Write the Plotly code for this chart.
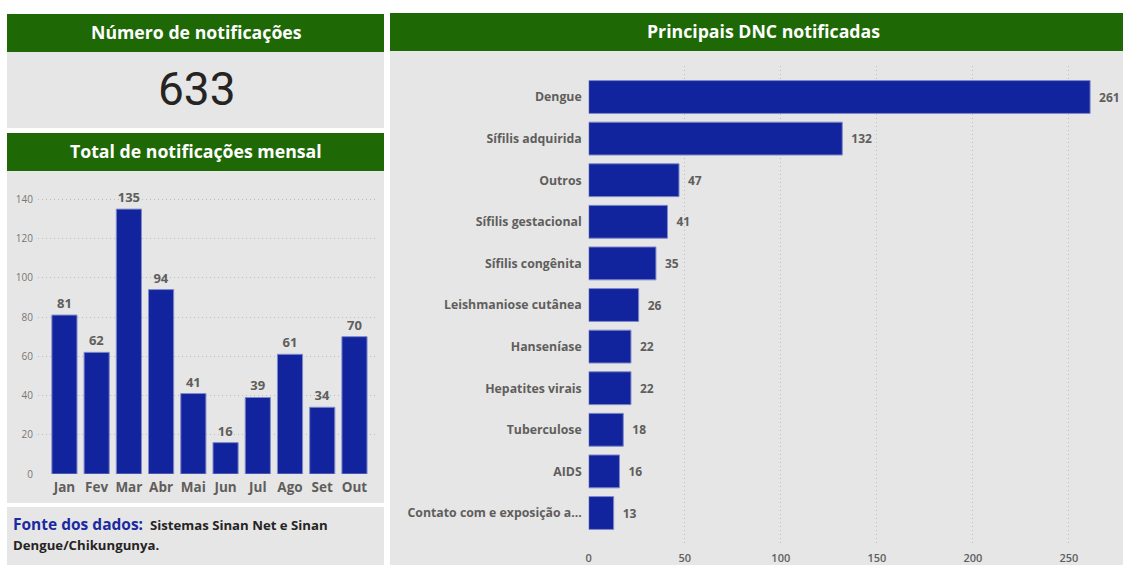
import plotly.graph_objects as go

W, H = 1123, 565

# ---- data ----
total_notificacoes = 633
meses = ["Jan", "Fev", "Mar", "Abr", "Mai", "Jun", "Jul", "Ago", "Set", "Out"]
valores_mensais = [81, 62, 135, 94, 41, 16, 39, 61, 34, 70]
doencas = ["Dengue", "Sífilis adquirida", "Outros", "Sífilis gestacional", "Sífilis congênita",
           "Leishmaniose cutânea", "Hanseníase", "Hepatites virais", "Tuberculose", "AIDS",
           "Contato com e exposição a..."]
valores_doencas = [261, 132, 47, 41, 35, 26, 22, 22, 18, 16, 13]
y_ticks_mensal = [0, 20, 40, 60, 80, 100, 120, 140]
x_ticks_dnc = [0, 50, 100, 150, 200, 250]

# ---- style ----
GREEN = "#1E6905"
GREY = "#E6E6E6"
BAR = "#12239E"
TXT = "#605E5C"
FONT = "Open Sans"
GRID = dict(showgrid=True, gridcolor="#BDBDBD", griddash="1px,3px", gridwidth=1)


def px(x):
    return x / W


def py(y):
    return 1 - y / H


fig = go.Figure()

fig.add_trace(go.Bar(
    x=meses, y=valores_mensais, xaxis="x", yaxis="y",
    marker=dict(color=BAR, line=dict(color="#7F89C9", width=1)),
    width=0.78,
    text=valores_mensais, textposition="outside", cliponaxis=False,
    textfont=dict(family=FONT, size=13, color=TXT, weight=700),
    hoverinfo="skip",
))

fig.add_trace(go.Bar(
    x=valores_doencas, y=doencas, orientation="h", xaxis="x2", yaxis="y2",
    marker=dict(color=BAR, line=dict(color="#7F89C9", width=1)),
    width=0.79,
    text=valores_doencas, texttemplate="\u2002%{x}", textposition="outside", cliponaxis=False,
    textfont=dict(family=FONT, size=12, color=TXT, weight=700),
    hoverinfo="skip",
))

shapes = []


def rect(x0, y0, x1, y1, color):
    shapes.append(dict(type="rect", xref="paper", yref="paper",
                       x0=px(x0), x1=px(x1), y0=py(y1), y1=py(y0),
                       fillcolor=color, line=dict(width=0), layer="below"))


# left panels
rect(7, 14, 384, 52, GREEN)
rect(7, 52, 384, 128, GREY)
rect(7, 133, 384, 171, GREEN)
rect(7, 171, 384, 503, GREY)
rect(7, 507, 384, 565, GREY)
# right panels
rect(390, 13, 1123, 51, GREEN)
rect(390, 51, 1123, 565, GREY)

annotations = []


def text(x, y, s, size, color, weight=700, xanchor="center", family=FONT):
    annotations.append(dict(xref="paper", yref="paper", x=px(x), y=py(y), text=s,
                            showarrow=False, xanchor=xanchor, yanchor="middle",
                            font=dict(family=family, size=size, color=color, weight=weight)))


text(196, 32, "Número de notificações", 17.7, "white")
text(197, 89, str(total_notificacoes), 46, "#252423", weight=400, family="Roboto")
text(196, 151, "Total de notificações mensal", 17.7, "white")
text(763, 31, "Principais DNC notificadas", 17.7, "white")
annotations.append(dict(xref="paper", yref="paper", x=px(11), y=py(524),
                        xanchor="left", yanchor="middle", align="left", showarrow=False,
                        text="<span style='font-size:15.5px;color:#1B2AA0'>Fonte dos dados:</span>"
                             "  Sistemas Sinan Net e Sinan",
                        font=dict(family=FONT, size=13.2, color="#252423", weight=700)))
text(11, 545, "Dengue/Chikungunya.", 13.2, "#252423", xanchor="left")

fig.update_layout(
    width=W, height=H,
    margin=dict(l=0, r=0, t=0, b=0, autoexpand=False),
    paper_bgcolor="white", plot_bgcolor="rgba(0,0,0,0)",
    showlegend=False,
    shapes=shapes, annotations=annotations,
    xaxis=dict(domain=[px(38), px(378)], range=[-0.82, 9.73], type="category",
               categoryarray=meses, showgrid=False, zeroline=False, showline=False,
               ticks="", ticklabelstandoff=3, automargin=False,
               tickfont=dict(family=FONT, size=13.5, color=TXT, weight=700),
               anchor="y"),
    yaxis=dict(domain=[py(474), py(189.5)], range=[0, 145], tickvals=y_ticks_mensal,
               zeroline=False, showline=False, ticks="", ticklabelstandoff=4, automargin=False,
               tickfont=dict(family=FONT, size=10, color="#777777"), anchor="x", **GRID),
    xaxis2=dict(domain=[px(588.7), px(1117)], range=[0, 275], tickvals=x_ticks_dnc,
                zeroline=False, showline=False, ticks="", ticklabelstandoff=6, automargin=False,
                tickfont=dict(family=FONT, size=11, color=TXT, weight=600), anchor="y2", **GRID),
    yaxis2=dict(domain=[py(544.2), py(65.8)], type="category", categoryarray=doencas,
                range=[10.75, -0.75], showgrid=False, zeroline=False, showline=False,
                ticks="", ticklabelstandoff=6, automargin=False,
                tickfont=dict(family=FONT, size=12.3, color=TXT, weight=700), anchor="x2"),
    bargap=0.2,
)

fig.write_html(
    "out.html",
    config={"displayModeBar": False},
    post_script=(
        "document.documentElement.style.margin='0';"
        "document.documentElement.style.overflow='hidden';"
        "document.body.style.margin='0';"
        "document.body.style.padding='0';"
        "document.body.style.overflow='hidden';"
    ),
)
